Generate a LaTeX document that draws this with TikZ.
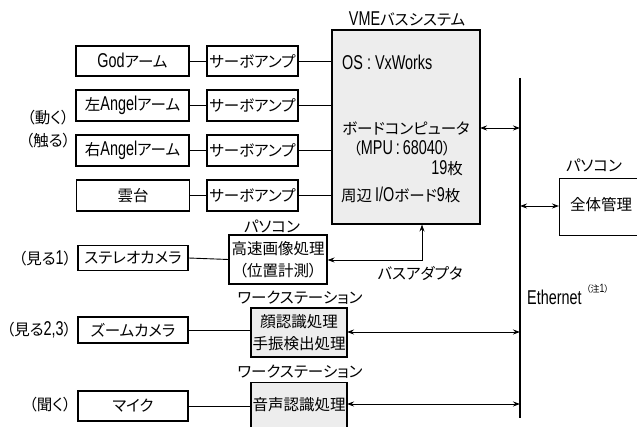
\documentclass[tikz,border=0pt]{standalone}
\usepackage{fontspec}
\setmainfont[RawFeature=+palt]{Noto Sans CJK JP}
\newfontfamily\latf[FakeStretch=0.72]{Liberation Sans}
\newcommand{\LT}[1]{{\latf\fontsize{20}{22}\selectfont #1}}
\newcommand{\LTs}[1]{{\latf\fontsize{12}{13}\selectfont #1}}
\usetikzlibrary{arrows.meta}
\begin{document}
\begin{tikzpicture}[x=1pt,y=-1pt,
  every node/.style={inner sep=0pt,font=\fontsize{15.5}{22}\selectfont},
  blk/.style={draw,line width=1.1pt,rectangle},
  gblk/.style={blk,fill=black!7},
  ln/.style={line width=0.9pt},
  dbl/.style={line width=0.9pt,{Stealth[length=7pt,width=5pt]}-{Stealth[length=7pt,width=5pt]}}]
\useasboundingbox (0,0) rectangle (637,427);
\begin{scope}
\clip (0,0) rectangle (637,427);
% VME box
\node[gblk,minimum width=148pt,minimum height=194pt] (vme) at (406,127) {};
\node (vmet) at (407,19) {\LT{VME}バスシステム};
\node[anchor=west] (os) at (342,62) {\LT{OS\hspace{4pt}:\hspace{4pt}VxWorks}};
\node (bc) at (406,128) {ボードコンピュータ};
\node (mpu) at (402,148) {（\LT{MPU\hspace{3pt}:\hspace{3pt}68040}）};
\node[anchor=east] (n19) at (463,168) {\LT{19}枚};
\node[anchor=west] (io) at (341,195) {周辺\hspace{3pt}\LT{I/O}ボード\LT{9}枚};
\coordinate (vmebc) at (480,128);
% Arms
\node[blk,minimum width=113pt,minimum height=30pt] (god) at (132.5,61) {\LT{God}アーム};
\node[blk,minimum width=113pt,minimum height=31pt] (la) at (132.5,105.5) {左\LT{Angel}アーム};
\node[blk,minimum width=113pt,minimum height=31pt] (ra) at (132.5,150.5) {右\LT{Angel}アーム};
\node[blk,minimum width=113pt,minimum height=31pt] (un) at (133,195.5) {雲台};
\node[blk,minimum width=91pt,minimum height=30pt] (s1) at (252.5,61) {サーボアンプ};
\node[blk,minimum width=91pt,minimum height=31pt] (s2) at (252.5,105.5) {サーボアンプ};
\node[blk,minimum width=91pt,minimum height=31pt] (s3) at (252.5,150.5) {サーボアンプ};
\node[blk,minimum width=91pt,minimum height=31pt] (s4) at (252.5,195.5) {サーボアンプ};
\foreach \a/\b in {god/s1,la/s2,ra/s3,un/s4}{\draw[ln] (\a.east) -- (\b.west);}
\foreach \b in {s1,s2,s3,s4}{\draw[ln] (\b.east) -- (\b.east -| vme.west);}
\node (ug) at (48,118) {（動く）};
\node (sw) at (48,141) {（触る）};
% Ethernet
\coordinate (etop) at (520,78);
\coordinate (ebot) at (520,418);
\draw[line width=2.4pt] (etop) -- (ebot);
\node[anchor=west] (eth) at (527,297) {\LT{Ethernet}};
\node[anchor=west,font=\fontsize{9}{10}\selectfont] (note) at (586,289) {（注\LTs{1}）};
\draw[dbl] (vmebc) -- (vmebc -| etop);
% PC right
\node[blk,anchor=north west,minimum width=90pt,minimum height=57pt] (pc) at (559,178) {};
\node (pcl) at (594,165) {パソコン};
\node (zen) at (601,205) {全体管理};
\coordinate (pcin) at (559,206);
\draw[dbl] (pcin -| etop) -- (pcin);
% Stereo
\node[blk,minimum width=110pt,minimum height=25pt] (st) at (133,258) {ステレオカメラ};
\node (m1) at (45,258) {（見る\LT{1}）};
\node[blk,minimum width=98pt,minimum height=49pt,align=center] (img) at (278,259.5) {高速画像処理\\（位置計測）};
\node (imgl) at (272,226) {パソコン};
\draw[ln] (st.east) -- (img.west);
\coordinate (ba) at (422,260);
\draw[ln,{Stealth[length=7pt,width=5pt]}-{Stealth[length=7pt,width=5pt]}] (vme.south -| ba) -- (ba) -- (ba -| img.east);
\node (bal) at (420,273) {バスアダプタ};
% Zoom camera
\node[blk,minimum width=110pt,minimum height=26pt] (zc) at (133,330) {ズームカメラ};
\node (m2) at (39,330) {（見る\LT{2,3}）};
\node[gblk,minimum width=96pt,minimum height=49pt,align=center] (face) at (299,332.5) {顔認識処理\\手振検出処理};
\node (ws1) at (300,298) {ワークステーション};
\draw[ln] (zc.east) -- (zc.east -| face.west);
\coordinate (fc) at (347,332);
\draw[dbl] (fc) -- (fc -| etop);
% Mic
\node[blk,minimum width=110pt,minimum height=30pt] (mic) at (133,406) {マイク};
\node (kk) at (50,405) {（聞く）};
\node[gblk,anchor=north,minimum width=96pt,minimum height=60pt] (voice) at (299,382) {};
\node (vt) at (299,405) {音声認識処理};
\node (ws2) at (300,372) {ワークステーション};
\draw[ln] (mic.east) -- (mic.east -| voice.west);
\coordinate (vc) at (347,404);
\draw[dbl] (vc) -- (vc -| etop);
\end{scope}
\end{tikzpicture}
\end{document}
